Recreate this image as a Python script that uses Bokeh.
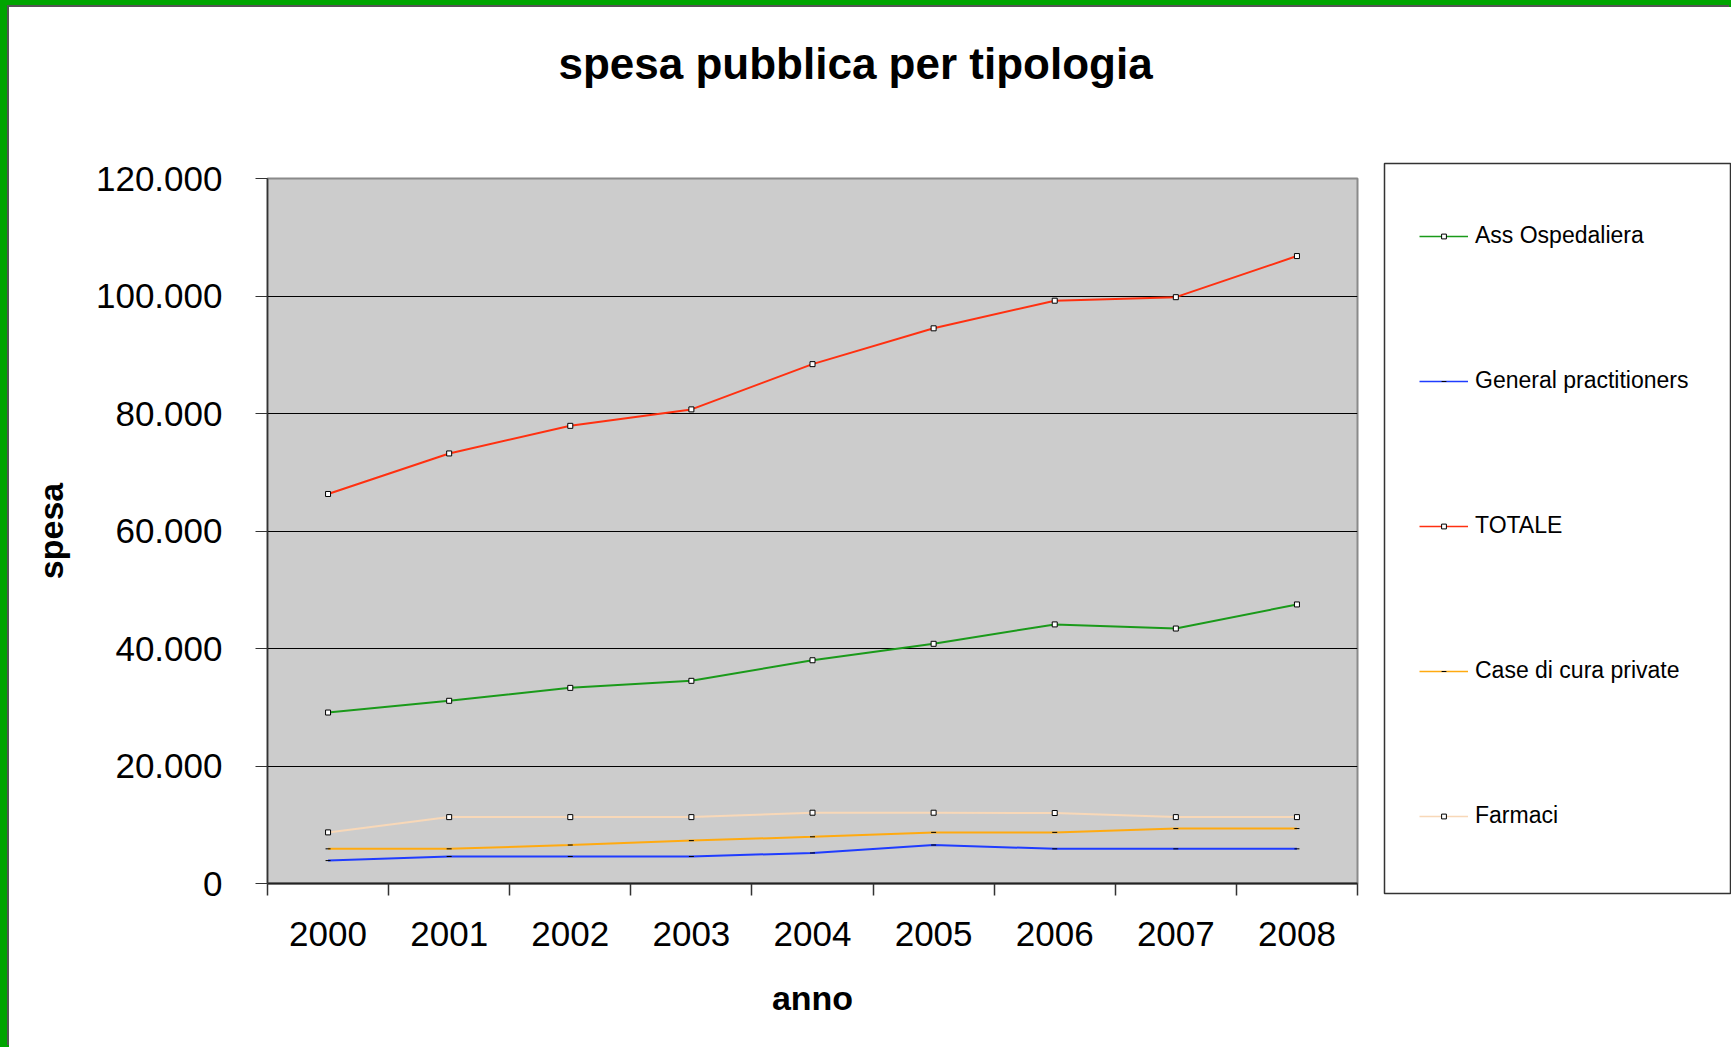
from bokeh.plotting import figure
from bokeh.models import Range1d, FixedTicker, Legend, LegendItem
from bokeh.layouts import column, row
from bokeh.embed import file_html
from bokeh.resources import INLINE

# ---- data ----
years = [2000, 2001, 2002, 2003, 2004, 2005, 2006, 2007, 2008]
year_labels = ["2000", "2001", "2002", "2003", "2004", "2005", "2006", "2007", "2008"]
ass_ospedaliera = [29100, 31100, 33300, 34500, 38000, 40800, 44100, 43400, 47500]
general_practitioners = [3900, 4600, 4600, 4600, 5200, 6550, 5900, 5900, 5900]
totale = [66300, 73200, 77900, 80700, 88400, 94500, 99200, 99800, 106800]
case_di_cura_private = [5900, 5900, 6550, 7300, 7950, 8700, 8700, 9350, 9350]
farmaci = [8700, 11300, 11300, 11300, 12050, 12050, 12000, 11300, 11300]
y_ticks = [0, 20000, 40000, 60000, 80000, 100000, 120000]
y_tick_labels = ["0", "20.000", "40.000", "60.000", "80.000", "100.000", "120.000"]

FONT = "Liberation Sans"

# ---- title strip ----
tf = figure(width=1362, height=141, output_backend="svg", toolbar_location=None,
            x_axis_type=None, y_axis_type=None,
            min_border_left=258, min_border_right=14, min_border_top=0, min_border_bottom=0,
            background_fill_color="white", border_fill_color="white", margin=0)
tf.outline_line_color = None
tf.xgrid.visible = False
tf.ygrid.visible = False
tf.title.text = "spesa pubblica per tipologia"
tf.title.text_font = FONT
tf.title.text_font_size = "44px"
tf.title.text_font_style = "bold"
tf.title.text_color = "black"
tf.title.align = "left"
tf.title.offset = 291
tf.title.standoff = 59

# ---- main chart ----
p = figure(width=1362, height=899, output_backend="svg", toolbar_location=None,
           x_range=Range1d(years[0] - 0.5, years[-1] + 0.5),
           y_range=Range1d(y_ticks[0], y_ticks[-1]),
           min_border_left=258, min_border_right=14, min_border_top=30, min_border_bottom=164,
           background_fill_color="#cccccc", border_fill_color="white", margin=0)

p.outline_line_color = "#8a8a8a"
p.outline_line_width = 2

# grids
p.xgrid.visible = False
p.ygrid.grid_line_color = "black"
p.ygrid.grid_line_width = 1
p.ygrid.ticker = FixedTicker(ticks=y_ticks)

# y axis
p.yaxis.ticker = FixedTicker(ticks=y_ticks)
p.yaxis.major_label_overrides = {t: l for t, l in zip(y_ticks, y_tick_labels)}
p.yaxis.major_label_text_font = FONT
p.yaxis.major_label_text_font_size = "35px"
p.yaxis.major_label_text_color = "black"
p.yaxis.major_label_standoff = 33
p.yaxis.major_tick_in = 0
p.yaxis.major_tick_out = 12
p.yaxis.minor_tick_line_color = None
p.yaxis.axis_line_color = "#333333"
p.yaxis.axis_line_width = 1.5
p.yaxis.major_tick_line_color = "#333333"
p.yaxis.axis_label = "spesa"
p.yaxis.axis_label_text_font = FONT
p.yaxis.axis_label_text_font_size = "34px"
p.yaxis.axis_label_text_font_style = "bold"
p.yaxis.axis_label_text_color = "black"
p.yaxis.axis_label_standoff = 23

# x axis: labels at category centres, ticks at category boundaries
boundaries = [y - 0.5 for y in years] + [years[-1] + 0.5]
p.xaxis.ticker = FixedTicker(ticks=years, minor_ticks=boundaries)
p.xaxis.major_label_overrides = {y: l for y, l in zip(years, year_labels)}
p.xaxis.major_label_text_font = FONT
p.xaxis.major_label_text_font_size = "35px"
p.xaxis.major_label_text_color = "black"
p.xaxis.major_label_standoff = 26
p.xaxis.major_tick_in = 0
p.xaxis.major_tick_out = 0
p.xaxis.minor_tick_in = 0
p.xaxis.minor_tick_out = 12
p.xaxis.minor_tick_line_color = "#333333"
p.xaxis.minor_tick_line_width = 1.5
p.xaxis.axis_line_color = "#222222"
p.xaxis.axis_line_width = 2
p.xaxis.axis_label = "anno"
p.xaxis.axis_label_text_font = FONT
p.xaxis.axis_label_text_font_size = "34px"
p.xaxis.axis_label_text_font_style = "bold"
p.xaxis.axis_label_text_color = "black"
p.xaxis.axis_label_standoff = 30

series = [
    ("Ass Ospedaliera", ass_ospedaliera, "#1a9a1a", "square"),
    ("General practitioners", general_practitioners, "#1f3cff", "dash"),
    ("TOTALE", totale, "#ff3010", "square"),
    ("Case di cura private", case_di_cura_private, "#ffaa10", "dash"),
    ("Farmaci", farmaci, "#f8d8b8", "square"),
]

# ---- legend panel: its own canvas, legend box = frame outline ----
lp = figure(width=360, height=1040, output_backend="svg", toolbar_location=None,
            x_axis_type=None, y_axis_type=None,
            min_border_left=13, min_border_right=0, min_border_top=156, min_border_bottom=154,
            background_fill_color="white", border_fill_color="white", margin=0)
lp.outline_line_color = "#333333"
lp.outline_line_width = 1.5
lp.xgrid.visible = False
lp.ygrid.visible = False

items = []
for name, vals, color, marker in series:
    p.line(years, vals, line_color=color, line_width=2)
    if marker == "square":
        p.scatter(years, vals, marker="square", size=5, fill_color="white",
                  line_color="black", line_width=1)
    else:
        p.scatter(years, vals, marker="dash", size=5, line_color="black", line_width=1)
    # hidden legend-only copies so the legend can live on its own canvas
    lln = lp.line(years, vals, line_color=color, line_width=1.5, visible=False)
    if marker == "square":
        lmk = lp.scatter(years, vals, marker="square", fill_color="white",
                         line_color="black", line_width=1, visible=False)
    else:
        lmk = lp.scatter(years, vals, marker="dash", line_color="black",
                         line_width=1, visible=False)
    items.append(LegendItem(label=name, renderers=[lln, lmk]))

legend = Legend(items=items, location=(35, 64), orientation="vertical",
                label_text_font=FONT, label_text_font_size="23px",
                label_text_color="black",
                glyph_width=49, glyph_height=12, label_height=12, spacing=118,
                padding=0, label_standoff=7, margin=0,
                border_line_color=None, background_fill_alpha=0,
                inactive_fill_alpha=0)
lp.add_layout(legend, "center")

inner = column(row(column(tf, p), lp), width=1722, height=1040, margin=(7, 0, 0, 9),
               styles={"background-color": "white",
                       "box-shadow": "-2px -2px 0 0 #555555"})
layout = column(inner, width=1731, height=1047,
                styles={"background-color": "#00a400"})

open("out.html", "w").write(file_html(layout, INLINE))
